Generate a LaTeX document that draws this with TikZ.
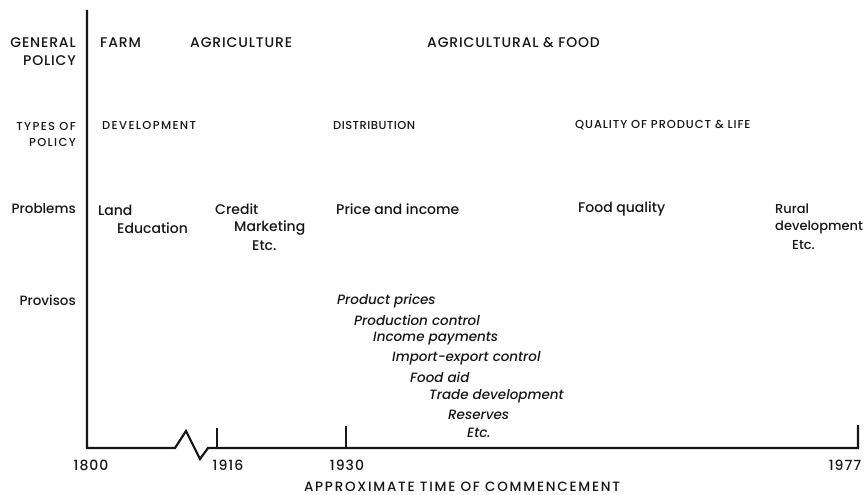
\documentclass[tikz,border=0pt]{standalone}
\usepackage{fontspec}
\setmainfont{Poppins Medium}[ItalicFont={Poppins Medium Italic}]
\usetikzlibrary{positioning}
\definecolor{inkBlack}{RGB}{22,22,22}
\tikzset{
    axisline/.style={draw=inkBlack, line width=2.2pt, line join=miter},
    tickline/.style={draw=inkBlack, line width=1.8pt},
    rowhead/.style={
        anchor=east,
        align=right,
        inner sep=0pt,
        text=inkBlack,
        font=\fontsize{14}{18}\selectfont\addfontfeatures{LetterSpace=6}
    },
    smallhead/.style={
        anchor=east,
        align=right,
        inner sep=0pt,
        text=inkBlack,
        font=\fontsize{11.5}{16}\selectfont\addfontfeatures{LetterSpace=12}
    },
    policytext/.style={
        anchor=west,
        inner sep=0pt,
        text=inkBlack,
        font=\fontsize{14}{16}\selectfont\addfontfeatures{LetterSpace=6}
    },
    typetext/.style={
        anchor=west,
        inner sep=0pt,
        text=inkBlack,
        font=\fontsize{11.5}{14}\selectfont\addfontfeatures{LetterSpace=8}
    },
    problemtext/.style={
        anchor=west,
        inner sep=0pt,
        text=inkBlack,
        font=\fontsize{14}{16}\selectfont
    },
    provisotext/.style={
        anchor=west,
        inner sep=0pt,
        text=inkBlack,
        font=\fontsize{13.5}{15}\selectfont\itshape
    },
    yearlabel/.style={inner sep=0pt, text=inkBlack, font=\fontsize{14}{16}\selectfont\addfontfeatures{LetterSpace=7}}
}

\begin{document}
\begin{tikzpicture}[x=1pt, y=-1pt]
    \useasboundingbox (0,0) rectangle (868,495);

    % axes with the break between 1800 and 1916
    \coordinate (top) at (87,10);
    \coordinate (origin) at (87,448);
    \coordinate (brkA) at (175,448);
    \coordinate (brkB) at (186,431);
    \coordinate (brkC) at (200,459);
    \coordinate (brkD) at (208,448);
    \coordinate (t1916) at (217,448);
    \coordinate (t1930) at (346,448);
    \coordinate (t1977) at (858,448);
    \draw[axisline] (top) -- (origin) -- (brkA) -- (brkB) -- (brkC) -- (brkD) -- (t1977) -- ++(0,-23);
    \draw[tickline] (t1916) -- ++(0,-20);
    \draw[tickline] (t1930) -- ++(0,-22);

    \node[yearlabel] (y1800) at (91,465) {1800};
    \node[yearlabel] (y1916) at (228,465) {1916};
    \node[yearlabel] (y1930) at (347,465) {1930};
    \node[yearlabel] (y1977) at (845,465) {1977};
    \node[yearlabel, font=\fontsize{13.5}{16}\selectfont\addfontfeatures{LetterSpace=13}] (xtitle) at (462,487) {APPROXIMATE TIME OF COMMENCEMENT};

    % row headings
    \node[rowhead] (hgeneral) at (76,52) {GENERAL\\POLICY};
    \node[smallhead] (htypes) at (76,134) {TYPES OF\\POLICY};
    \node[rowhead, font=\fontsize{13.5}{16}\selectfont] (hproblems) at (76,209) {Problems};
    \node[rowhead, font=\fontsize{13.5}{16}\selectfont] (hprovisos) at (76,300) {Provisos};

    % general policy
    \node[policytext] (farm) at (100,43) {FARM};
    \node[policytext] (agri) at (190,43) {AGRICULTURE};
    \node[policytext] (agrifood) at (427,43) {AGRICULTURAL \& FOOD};

    % types of policy
    \node[typetext, font=\fontsize{11.5}{14}\selectfont\addfontfeatures{LetterSpace=12}] (develop) at (102,125) {DEVELOPMENT};
    \node[typetext, font=\fontsize{11.5}{14}\selectfont\addfontfeatures{LetterSpace=4}] (distrib) at (333,125) {DISTRIBUTION};
    \node[typetext] (quality) at (575,125) {QUALITY OF PRODUCT \& LIFE};

    % problems
    \node[problemtext] (land) at (98,210) {Land};
    \node[problemtext] (educ) at (117,228) {Education};
    \node[problemtext] (credit) at (215,209) {Credit};
    \node[problemtext] (market) at (234,228) {Marketing};
    \node[problemtext] (etcA) at (252,246) {Etc.};
    \node[problemtext] (price) at (336,209) {Price and income};
    \node[problemtext] (foodq) at (578,209) {Food quality};
    \node[problemtext, font=\fontsize{13}{15}\selectfont] (rural) at (775,209) {Rural};
    \node[problemtext, font=\fontsize{13}{15}\selectfont] (ruraldev) at (775,227) {development};
    \node[problemtext, font=\fontsize{13}{15}\selectfont] (etcB) at (792,245) {Etc.};

    % provisos
    \node[provisotext] (pv1) at (337,301) {Product prices};
    \node[provisotext] (pv2) at (354,320) {Production control};
    \node[provisotext] (pv3) at (373,339) {Income payments};
    \node[provisotext] (pv4) at (392,358) {Import-export control};
    \node[provisotext] (pv5) at (410,377) {Food aid};
    \node[provisotext] (pv6) at (429,396) {Trade development};
    \node[provisotext] (pv7) at (448,415) {Reserves};
    \node[provisotext] (pv8) at (467,433) {Etc.};
\end{tikzpicture}
\end{document}
